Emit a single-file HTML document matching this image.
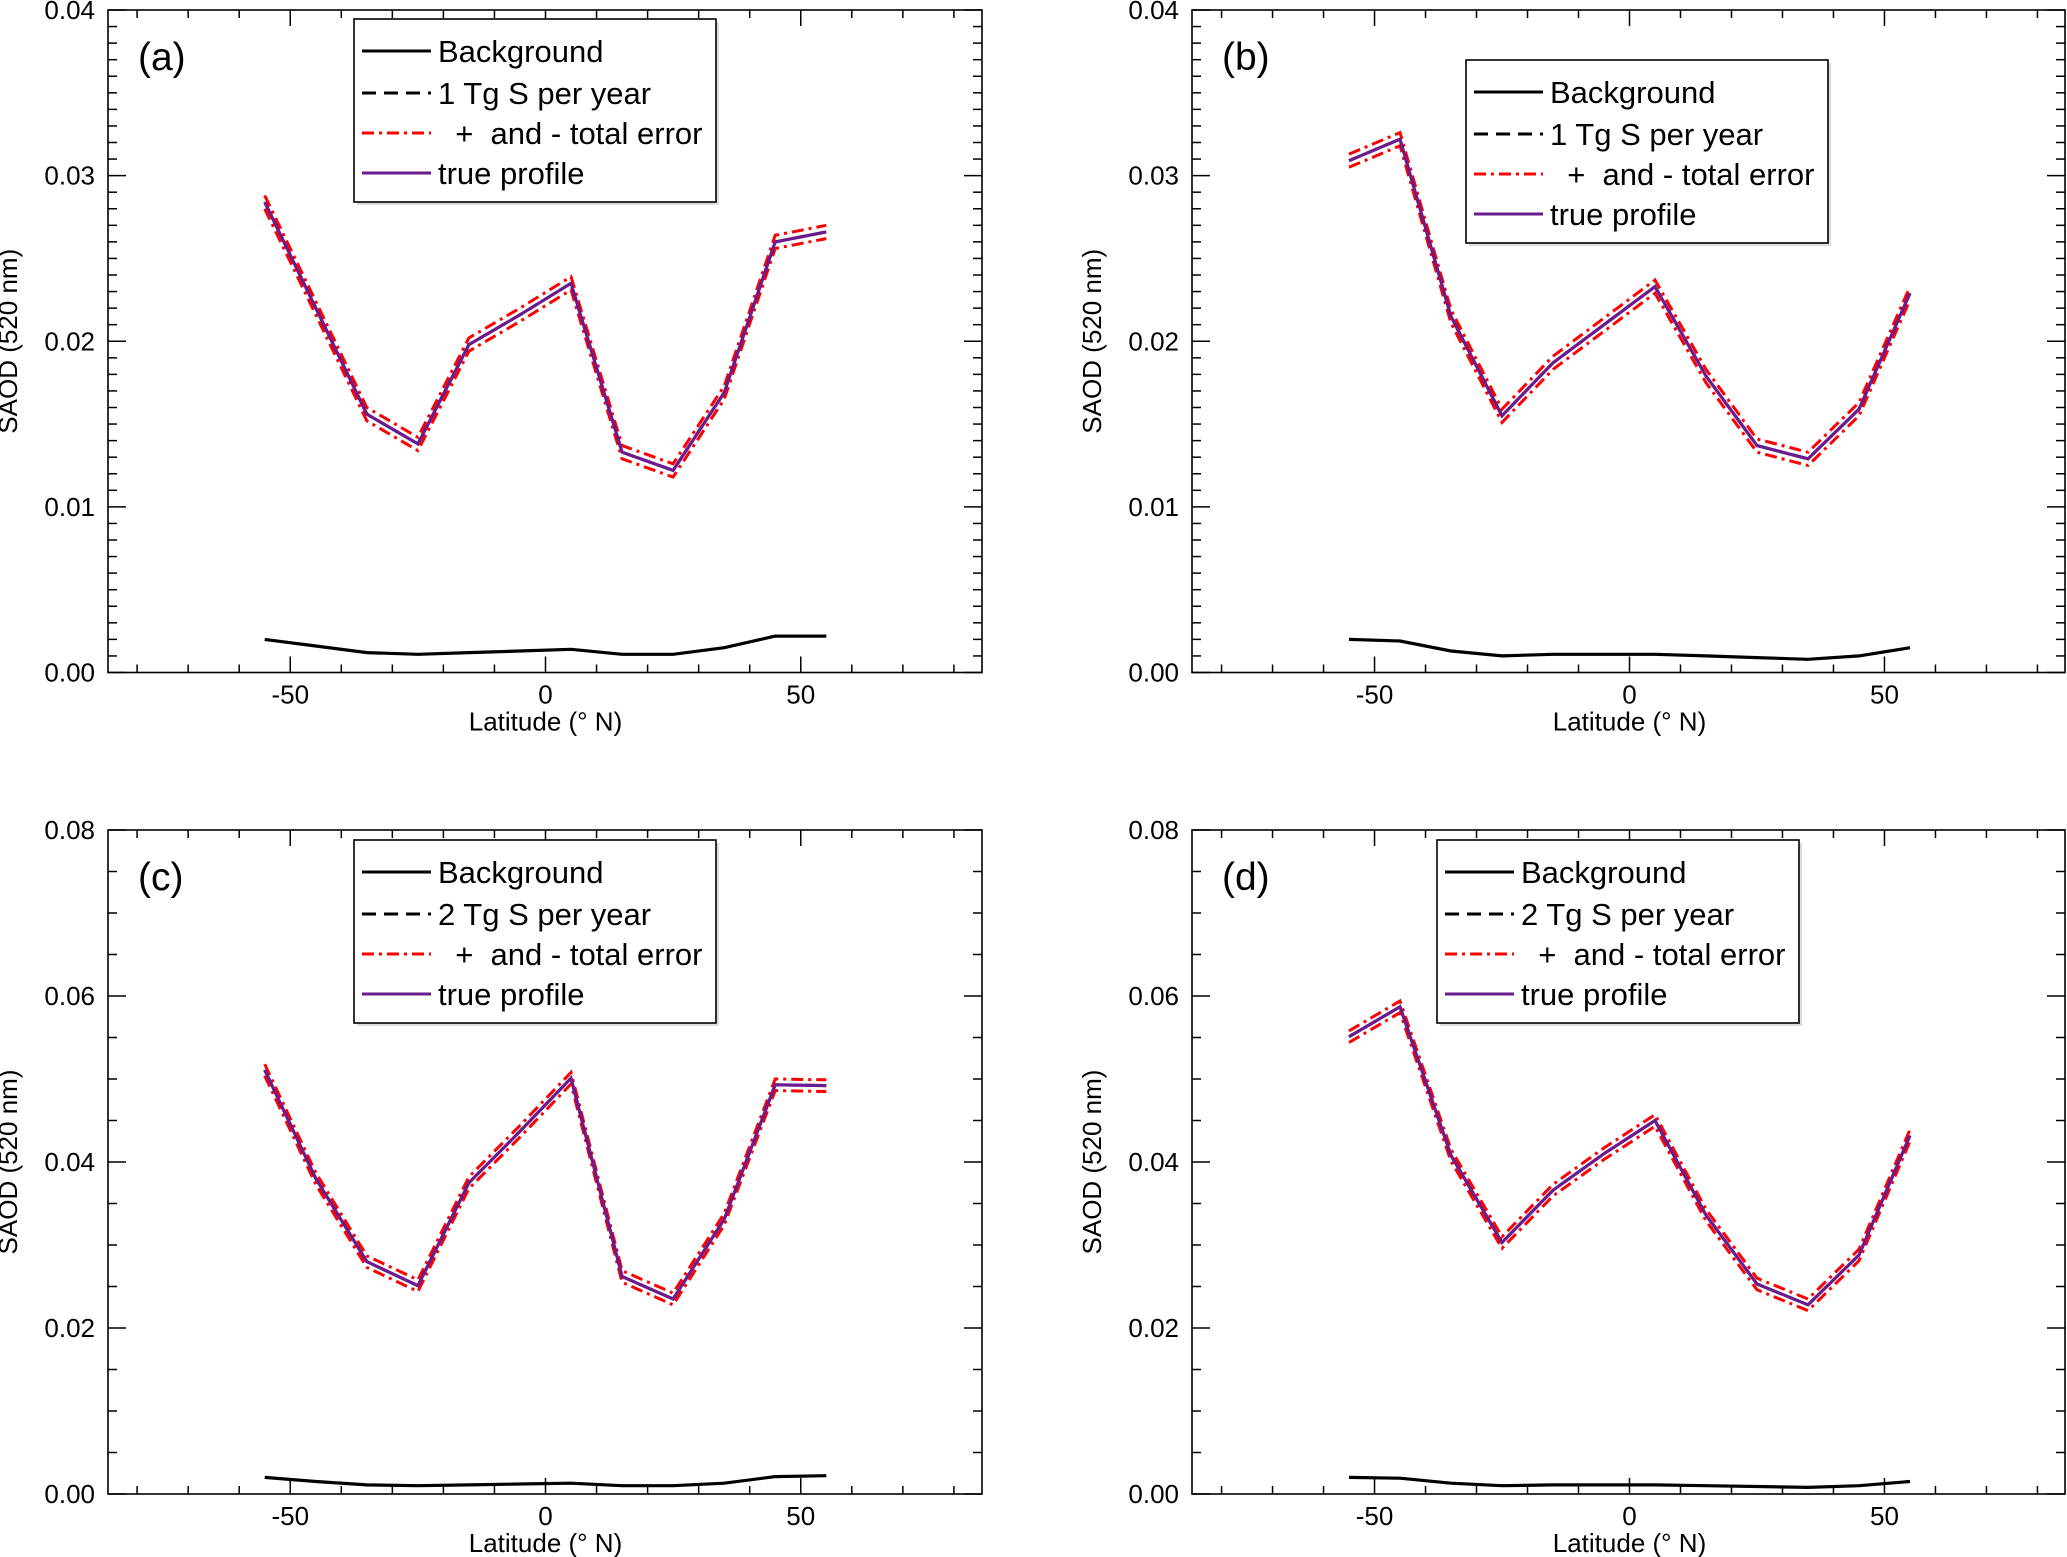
<!DOCTYPE html>
<html><head><meta charset="utf-8"><style>
html,body{margin:0;padding:0;background:#fff;}
svg{display:block;font-family:"Liberation Sans",Arial,sans-serif;}
</style></head><body>
<svg id="fig" width="2067" height="1557" viewBox="0 0 2067 1557" xmlns="http://www.w3.org/2000/svg"></svg>
<script>
const lats = [-55,-45,-35,-25,-15,-5,5,15,25,35,45,55];
const trueA = [0.0284,0.0220,0.0156,0.0138,0.0198,0.0216,0.0235,0.0133,0.0122,0.0169,0.0260,0.0266];
const bgA   = [0.0020,0.0016,0.0012,0.0011,0.0012,0.0013,0.0014,0.0011,0.0011,0.0015,0.0022,0.0022];
const trueB = [0.0309,0.0322,0.0215,0.0155,0.0187,0.0210,0.0233,0.0179,0.0137,0.0129,0.0159,0.0229];
const bgB   = [0.0020,0.0019,0.0013,0.0010,0.0011,0.0011,0.0011,0.0010,0.0009,0.0008,0.0010,0.0015];
const trueC = [0.0511,0.0380,0.0280,0.0251,0.0375,0.0437,0.0501,0.0262,0.0235,0.0331,0.0493,0.0492];
const bgC   = [0.0020,0.0015,0.0011,0.0010,0.0011,0.0012,0.0013,0.0010,0.0010,0.0013,0.0021,0.0022];
const trueD = [0.0551,0.0587,0.0408,0.0303,0.0366,0.0410,0.0450,0.0336,0.0253,0.0228,0.0288,0.0432];
const bgD   = [0.0020,0.0019,0.0013,0.0010,0.0011,0.0011,0.0011,0.0010,0.0009,0.0008,0.0010,0.0015];
const errTop = 0.0004;
const errBot = 0.0007;
const yTicksTop = ["0.00","0.01","0.02","0.03","0.04"];
const yTicksBot = ["0.00","0.02","0.04","0.06","0.08"];
const xTicks = [-50,0,50];

const NS="http://www.w3.org/2000/svg";
const svg=document.getElementById('fig');
function mk(tag,attrs,parent){const e=document.createElementNS(NS,tag);for(const k in attrs)e.setAttribute(k,attrs[k]);(parent||svg).appendChild(e);return e;}

const panels=[
 {id:'a',L:108,R:982,T:10,B:672.5,ymax:0.04,minor:0.001,ticks:yTicksTop,tv:[0,0.01,0.02,0.03,0.04],tru:trueA,bg:bgA,err:errTop,leg:[354,19],lab:'1 Tg S per year'},
 {id:'b',L:1192,R:2065,T:10,B:672.5,ymax:0.04,minor:0.001,ticks:yTicksTop,tv:[0,0.01,0.02,0.03,0.04],tru:trueB,bg:bgB,err:errTop,leg:[1466,60],lab:'1 Tg S per year'},
 {id:'c',L:108,R:982,T:830,B:1494,ymax:0.08,minor:0.005,ticks:yTicksBot,tv:[0,0.02,0.04,0.06,0.08],tru:trueC,bg:bgC,err:errBot,leg:[354,840],lab:'2 Tg S per year'},
 {id:'d',L:1192,R:2065,T:830,B:1494,ymax:0.08,minor:0.005,ticks:yTicksBot,tv:[0,0.02,0.04,0.06,0.08],tru:trueD,bg:bgD,err:errBot,leg:[1437,840],lab:'2 Tg S per year'}
];

panels.forEach(p=>{
 const g=mk('g',{});
 
 
 const x0=p.L+437.5, sx=(p.R-p.L)/171.2;
 const X=v=>x0+v*sx;
 const Y=v=>p.B-v/p.ymax*(p.B-p.T);
 const fr=mk('rect',{x:p.L,y:p.T,width:p.R-p.L,height:p.B-p.T,fill:'none',stroke:'#000','stroke-width':1.6},g);
 
 
 for(let v=-80;v<=80;v+=10){
  const len=(v%50===0)?16:8;
  mk('line',{x1:X(v),x2:X(v),y1:p.B,y2:p.B-len,stroke:'#000','stroke-width':1.5},g);
  mk('line',{x1:X(v),x2:X(v),y1:p.T,y2:p.T+len,stroke:'#000','stroke-width':1.5},g);
 }
 xTicks.forEach(v=>{
  const t=mk('text',{x:X(v),y:p.B+31,'font-size':26,'text-anchor':'middle'},g);
  t.textContent=String(v);
  
  
 });
 const nMin=Math.round(p.ymax/p.minor);
 const majStep=p.tv[1];
 for(let i=0;i<=nMin;i++){
  const v=i*p.minor;
  const maj=Math.abs(v/majStep-Math.round(v/majStep))<1e-6;
  const len=maj?18:9;
  mk('line',{x1:p.L,x2:p.L+len,y1:Y(v),y2:Y(v),stroke:'#000','stroke-width':1.5},g);
  mk('line',{x1:p.R,x2:p.R-len,y1:Y(v),y2:Y(v),stroke:'#000','stroke-width':1.5},g);
 }
 p.tv.forEach((v,i)=>{
  const t=mk('text',{x:p.L-13,y:Y(v)+9,'font-size':26,'text-anchor':'end'},g);
  t.textContent=p.ticks[i];
  
  
 });
 const xl=mk('text',{x:X(0),y:p.B+58,'font-size':26,'text-anchor':'middle'},g);
 xl.textContent='Latitude (° N)';
 
 
 const yc=(p.T+p.B)/2;
 const yl=mk('text',{x:p.L-91,y:yc,'font-size':26,'text-anchor':'middle',transform:`rotate(-90 ${p.L-91} ${yc})`},g);
 yl.textContent='SAOD (520 nm)';
 
 
 const pl=mk('text',{x:p.L+30,y:p.T+60,'font-size':39},g);
 pl.textContent='('+p.id+')';
 
 
 const pts=arr=>arr.map((v,i)=>X(lats[i]).toFixed(1)+','+Y(v).toFixed(1)).join(' ');
 const bgl=mk('polyline',{points:pts(p.bg),fill:'none',stroke:'#000','stroke-width':3.2},g);
 
 
 const up=mk('polyline',{points:pts(p.tru.map(v=>v+p.err)),fill:'none',stroke:'#ff0000','stroke-width':3,'stroke-dasharray':'12,5,3,5'},g);
 
 
 const lo=mk('polyline',{points:pts(p.tru.map(v=>v-p.err)),fill:'none',stroke:'#ff0000','stroke-width':3,'stroke-dasharray':'12,5,3,5'},g);
 
 
 const ds=mk('polyline',{points:pts(p.tru),fill:'none',stroke:'#000','stroke-width':3,'stroke-dasharray':'12,7'},g);
 
 
 const tr=mk('polyline',{points:pts(p.tru),fill:'none',stroke:'#6a1b8e','stroke-width':3.2},g);
 
 
 const [lx,ly]=p.leg;
 const lg=mk('g',{},g);
 
 
 mk('rect',{x:lx+3,y:ly+3,width:362,height:183,fill:'#ddd'},lg);
 mk('rect',{x:lx,y:ly,width:362,height:183,fill:'#fff',stroke:'#000','stroke-width':1.6},lg);
 const rows=[
  {t:'Background',s:{stroke:'#000'}},
  {t:p.lab,s:{stroke:'#000','stroke-dasharray':'14,8'}},
  {t:'  +  and - total error',s:{stroke:'#ff0000','stroke-dasharray':'12,5,3,5'}},
  {t:'true profile',s:{stroke:'#6a1b8e'}}
 ];
 const off=[32,74,114,154];
 rows.forEach((r,i)=>{
  const cy=ly+off[i];
  const a=Object.assign({x1:lx+8,x2:lx+77,y1:cy,y2:cy,'stroke-width':3},r.s);
  mk('line',a,lg);
  const t=mk('text',{x:lx+84,y:cy+11,'font-size':31},lg);
  t.setAttribute('style','white-space:pre');
  t.textContent=r.t;
  
  
 });
});
</script>
</body></html>
